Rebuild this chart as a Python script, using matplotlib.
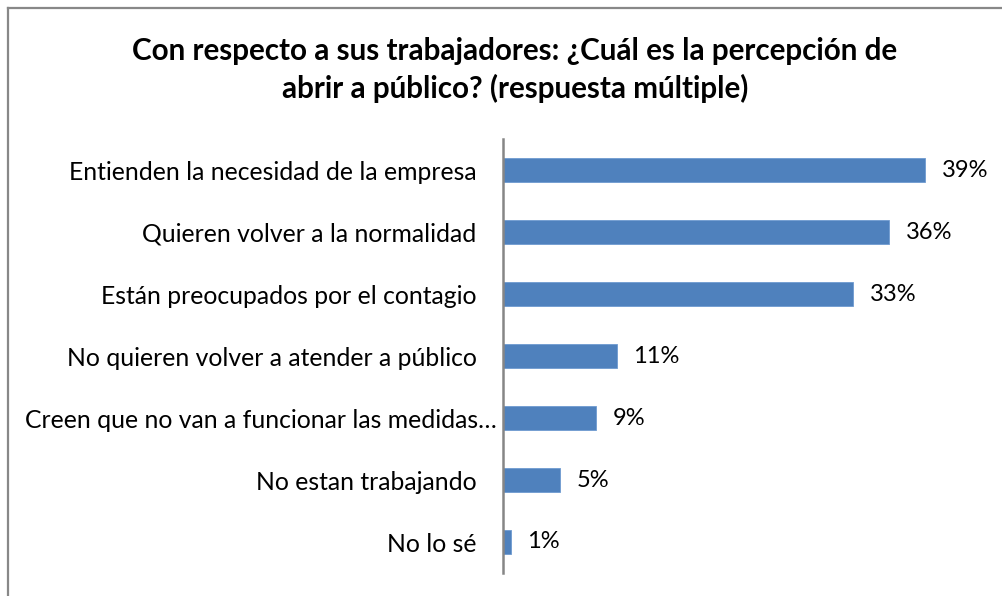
import matplotlib
matplotlib.use("Agg")
import matplotlib.pyplot as plt
from matplotlib.lines import Line2D
from matplotlib.transforms import ScaledTranslation

categories = [
    "Entienden la necesidad de la empresa",
    "Quieren volver a la normalidad",
    "Están preocupados por el contagio",
    "No quieren volver a atender a público",
    "Creen que no van a funcionar las medidas…",
    "No estan trabajando",
    "No lo sé",
]
values = [39.3, 36.0, 32.6, 10.6, 8.7, 5.3, 0.7]
labels = ["39%", "36%", "33%", "11%", "9%", "5%", "1%"]
title = "Con respecto a sus trabajadores: ¿Cuál es la percepción de\nabrir a público? (respuesta múltiple)"

plt.rcParams['font.family'] = ['Lato', 'DejaVu Sans']

W, H = 1003, 596
fig = plt.figure(figsize=(W / 100, H / 100), dpi=100)
fig.patch.set_facecolor('white')

ax = fig.add_axes([503 / W, (H - 573) / H, 483 / W, (573 - 139) / H])
y = list(range(len(categories)))
ax.barh(y, values, height=0.395, color='#4F81BD', edgecolor='#6F9BD0', linewidth=0.6)
ax.set_xlim(0, 45)
ax.set_ylim(len(categories) - 0.5, -0.5)
for s in ['top', 'right', 'bottom']:
    ax.spines[s].set_visible(False)
ax.spines['left'].set_color('#868686')
ax.spines['left'].set_linewidth(1.8)
ax.set_xticks([])
ax.set_yticks(y)
ax.set_yticklabels(categories, fontsize=17.8, color='black')
ax.tick_params(axis='y', length=0, pad=19)
# truncated label sits closer to the axis (as in the source chart)
for tl in ax.get_yticklabels():
    if tl.get_text().endswith('…'):
        tl.set_transform(tl.get_transform() + ScaledTranslation(20 / 100, 0, fig.dpi_scale_trans))
for yi, v, lab in zip(y, values, labels):
    ax.annotate(lab, (v, yi), xytext=(12, 0), textcoords='offset points',
                ha='left', va='center', fontsize=17, color='black')

fig.text(515 / W, 1 - 70 / H, title, ha='center', va='center',
         fontsize=21.3, fontweight='bold', linespacing=1.38)

# chart border (only left and top edges visible in crop)
fig.add_artist(Line2D([8.5 / W, 8.5 / W], [0, 1 - 7.5 / H], transform=fig.transFigure,
                      color='#888888', linewidth=1.6))
fig.add_artist(Line2D([8.5 / W, 1], [1 - 7.5 / H, 1 - 7.5 / H], transform=fig.transFigure,
                      color='#888888', linewidth=1.6))

fig.savefig('out.png', dpi=100)
